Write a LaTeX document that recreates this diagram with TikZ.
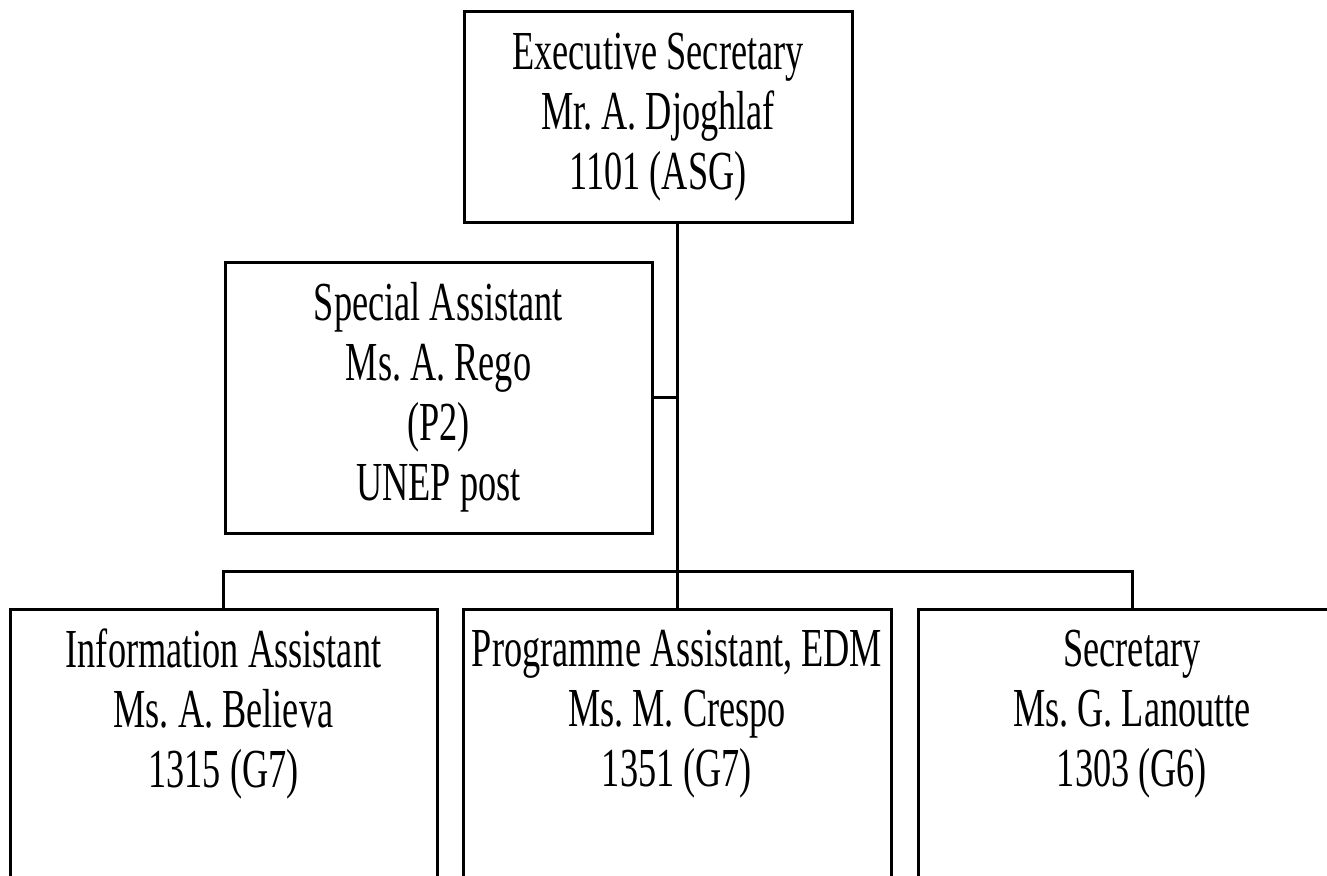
\documentclass[tikz,border=0pt]{standalone}
\usepackage{fontspec}
\setmainfont{Liberation Serif}[FakeStretch=0.66]
\usetikzlibrary{calc}
\frenchspacing
\begin{document}
\begin{tikzpicture}[x=1pt,y=-1pt,
  box/.style={draw,line width=3pt,inner sep=0pt},
  txt/.style={align=center,inner sep=0pt,font=\fontsize{55}{60}\selectfont},
  link/.style={line width=3pt}]
\useasboundingbox (0,0) rectangle (1327,875);
\clip (0,0) rectangle (1327,875);
\node[box,minimum width=388pt,minimum height=210pt] (es) at (658,117) {};
\node[txt] (est) at (es.center) {Executive Secretary\\Mr. A. Djoghlaf\\1101 (ASG)};
\node[box,minimum width=427pt,minimum height=271pt] (sa) at (438.5,397.5) {};
\node[txt] (sat) at (sa.center) {Special Assistant\\Ms. A. Rego\\(P2)\\UNEP post};
\node[box,anchor=north,minimum width=427pt,minimum height=330pt] (b1) at (223.5,608) {};
\node[box,anchor=north,minimum width=428pt,minimum height=330pt] (b2) at (677,608) {};
\node[box,anchor=north,minimum width=428pt,minimum height=330pt] (b3) at (1132,608) {};
\node[txt] (b1t) at ($(b1.north)+(0,106)$) {Information Assistant\\Ms. A. Believa\\1315 (G7)};
\node[txt] (b2t) at ($(b2.north)+(0,106)$) {Programme Assistant, EDM\\Ms. M. Crespo\\1351 (G7)};
\node[txt] (b3t) at ($(b3.north)+(0,106)$) {Secretary\\Ms. G. Lanoutte\\1303 (G6)};
\coordinate (bar) at (677,571);
\draw[link] (b2.north |- es.south) -- (b2.north);
\draw[link] (sa.east) -- (sa.east -| b2.north);
\draw[link] (b1.north) |- (bar) -| (b3.north);
\end{tikzpicture}
\end{document}
